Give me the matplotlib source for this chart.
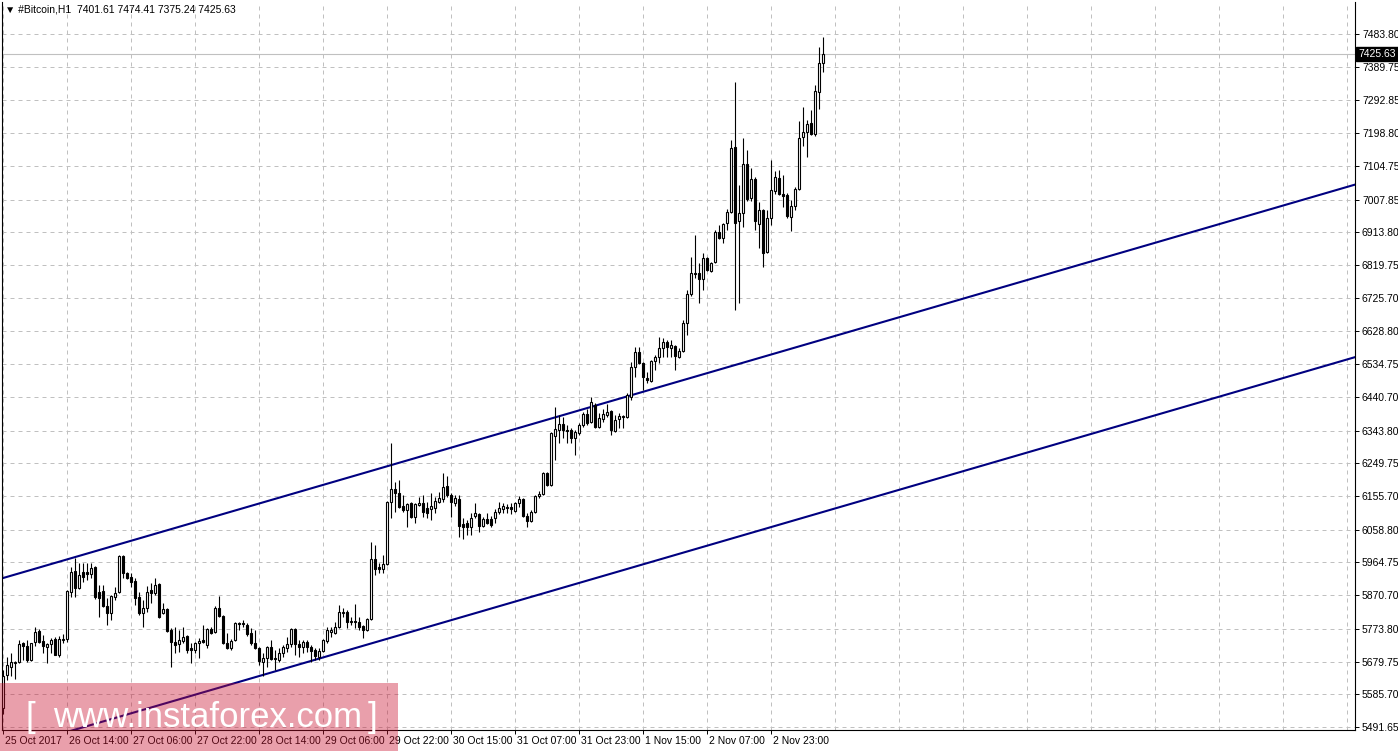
import matplotlib
matplotlib.use("Agg")
import matplotlib.pyplot as plt
import matplotlib.transforms as mtransforms
from matplotlib.patches import Rectangle

# hourly Bitcoin candles, first bar = 25 Oct 2017 22:00
opens = [
    5546, 5641, 5664, 5675, 5678, 5733, 5724, 5684, 5736, 5767,
    5739, 5721, 5730, 5744, 5698, 5741, 5744, 5880, 5940, 5891,
    5937, 5937, 5931, 5951, 5880, 5882, 5839, 5819, 5865, 5880,
    5983, 5934, 5923, 5911, 5865, 5819, 5833, 5885, 5877, 5902,
    5819, 5831, 5770, 5736, 5730, 5739, 5753, 5718, 5713, 5733,
    5741, 5727, 5773, 5764, 5833, 5810, 5733, 5718, 5741, 5790,
    5790, 5785, 5762, 5733, 5718, 5678, 5690, 5721, 5687, 5684,
    5704, 5718, 5730, 5773, 5730, 5721, 5736, 5721, 5713, 5693,
    5710, 5739, 5764, 5762, 5779, 5819, 5822, 5793, 5796, 5793,
    5782, 5770, 5802, 5974, 5951, 5946, 5960, 6138, 6176, 6164,
    6127, 6115, 6135, 6095, 6130, 6135, 6121, 6118, 6121, 6138,
    6147, 6184, 6158, 6135, 6147, 6075, 6078, 6066, 6098, 6104,
    6069, 6089, 6089, 6092, 6110, 6118, 6124, 6124, 6112, 6135,
    6147, 6098, 6084, 6110, 6156, 6161, 6222, 6187, 6328, 6345,
    6362, 6345, 6345, 6322, 6337, 6360, 6391, 6368, 6417, 6354,
    6377, 6388, 6400, 6342, 6377, 6385, 6383, 6440, 6526, 6569,
    6538, 6495, 6486, 6544, 6555, 6581, 6598, 6581, 6587, 6555,
    6572, 6653, 6736, 6797, 6797, 6779, 6840, 6802, 6828, 6914,
    6897, 6940, 6972, 7159, 6946, 6969, 7110, 7012, 7067, 6938,
    6978, 6857, 6955, 7032, 7070, 7024, 7021, 6958, 6989, 7038,
    7188, 7202, 7228, 7196, 7317, 7401.61,
]
highs = [
    5655, 5693, 5704, 5681, 5741, 5736, 5741, 5733, 5779, 5773,
    5756, 5733, 5747, 5750, 5753, 5759, 5885, 5951, 5977, 5963,
    5963, 5963, 5963, 5955, 5900, 5900, 5862, 5871, 5894, 5986,
    5986, 5937, 5934, 5920, 5880, 5856, 5897, 5905, 5920, 5905,
    5848, 5833, 5776, 5779, 5770, 5779, 5756, 5733, 5736, 5747,
    5785, 5776, 5779, 5839, 5868, 5813, 5762, 5744, 5793, 5793,
    5799, 5790, 5776, 5770, 5721, 5704, 5724, 5741, 5713, 5718,
    5727, 5750, 5776, 5776, 5741, 5741, 5741, 5727, 5718, 5718,
    5744, 5779, 5779, 5793, 5842, 5833, 5828, 5808, 5845, 5808,
    5785, 5805, 6023, 6015, 5963, 5986, 6141, 6308, 6196, 6201,
    6158, 6135, 6138, 6135, 6153, 6158, 6138, 6164, 6153, 6167,
    6222, 6213, 6164, 6158, 6158, 6092, 6086, 6107, 6135, 6107,
    6095, 6107, 6098, 6118, 6138, 6135, 6132, 6135, 6138, 6156,
    6150, 6107, 6115, 6158, 6170, 6224, 6224, 6340, 6411, 6388,
    6383, 6360, 6351, 6345, 6365, 6397, 6406, 6440, 6423, 6394,
    6406, 6420, 6403, 6388, 6394, 6388, 6452, 6541, 6584, 6584,
    6541, 6512, 6546, 6561, 6613, 6610, 6604, 6604, 6590, 6581,
    6661, 6748, 6843, 6906, 6825, 6854, 6843, 6828, 6920, 6935,
    6940, 6981, 7179, 7346, 7050, 7185, 7150, 7098, 7073, 7001,
    6981, 6978, 7121, 7090, 7093, 7078, 7027, 7006, 7044, 7234,
    7274, 7236, 7265, 7337, 7446, 7474.41,
]
lows = [
    5529, 5626, 5638, 5629, 5675, 5684, 5678, 5681, 5724, 5733,
    5704, 5675, 5704, 5698, 5693, 5733, 5736, 5865, 5865, 5888,
    5908, 5914, 5920, 5860, 5808, 5836, 5785, 5799, 5856, 5877,
    5920, 5918, 5894, 5842, 5813, 5779, 5822, 5848, 5871, 5806,
    5817, 5765, 5664, 5704, 5707, 5733, 5704, 5675, 5704, 5690,
    5733, 5718, 5759, 5762, 5808, 5730, 5716, 5713, 5739, 5770,
    5779, 5753, 5727, 5716, 5670, 5638, 5664, 5684, 5655, 5678,
    5693, 5707, 5721, 5698, 5693, 5704, 5707, 5678, 5684, 5684,
    5707, 5733, 5750, 5759, 5776, 5808, 5776, 5785, 5776, 5770,
    5747, 5767, 5799, 5928, 5934, 5934, 5957, 6092, 6110, 6121,
    6110, 6066, 6092, 6078, 6127, 6095, 6092, 6086, 6107, 6135,
    6138, 6153, 6095, 6127, 6038, 6032, 6043, 6043, 6092, 6052,
    6066, 6076, 6066, 6078, 6104, 6107, 6107, 6104, 6110, 6124,
    6095, 6066, 6081, 6107, 6150, 6158, 6184, 6184, 6259, 6308,
    6322, 6308, 6308, 6273, 6331, 6354, 6360, 6365, 6351, 6351,
    6368, 6383, 6331, 6340, 6351, 6351, 6380, 6431, 6498, 6535,
    6460, 6480, 6483, 6518, 6538, 6555, 6555, 6555, 6518, 6552,
    6569, 6618, 6730, 6782, 6710, 6748, 6802, 6800, 6825, 6895,
    6883, 6920, 6969, 6690, 6710, 6929, 7004, 7004, 6920, 6868,
    6814, 6854, 6935, 7024, 7021, 6986, 6955, 6917, 6978, 7035,
    7162, 7130, 7193, 7190, 7268, 7375.24,
]
closes = [
    5638, 5670, 5678, 5678, 5730, 5724, 5684, 5733, 5764, 5736,
    5724, 5730, 5741, 5698, 5744, 5744, 5882, 5937, 5891, 5928,
    5923, 5931, 5948, 5864, 5862, 5839, 5819, 5868, 5877, 5983,
    5934, 5920, 5908, 5862, 5819, 5833, 5880, 5877, 5900, 5808,
    5831, 5767, 5736, 5727, 5741, 5750, 5713, 5713, 5733, 5739,
    5736, 5773, 5762, 5833, 5810, 5733, 5718, 5739, 5790, 5787,
    5787, 5759, 5733, 5718, 5681, 5690, 5721, 5687, 5690, 5704,
    5721, 5730, 5773, 5730, 5721, 5736, 5721, 5710, 5695, 5710,
    5741, 5770, 5770, 5779, 5822, 5822, 5793, 5796, 5793, 5779,
    5770, 5802, 5974, 5946, 5946, 5960, 6138, 6176, 6164, 6124,
    6115, 6132, 6095, 6132, 6135, 6110, 6107, 6127, 6141, 6150,
    6181, 6158, 6138, 6150, 6069, 6066, 6066, 6092, 6107, 6069,
    6089, 6078, 6072, 6110, 6121, 6127, 6121, 6118, 6135, 6147,
    6098, 6084, 6110, 6156, 6161, 6222, 6187, 6337, 6348, 6362,
    6345, 6342, 6322, 6340, 6360, 6391, 6365, 6426, 6354, 6380,
    6391, 6397, 6345, 6374, 6385, 6383, 6446, 6526, 6569, 6538,
    6498, 6489, 6544, 6555, 6581, 6598, 6584, 6590, 6558, 6572,
    6653, 6736, 6797, 6794, 6779, 6840, 6805, 6825, 6914, 6897,
    6937, 6972, 7156, 6940, 6969, 7110, 7009, 7067, 6946, 6978,
    6854, 6955, 7035, 7073, 7024, 7018, 6960, 6989, 7038, 7185,
    7202, 7225, 7196, 7320, 7400, 7425.63,
]

# time axis labels (every 16 bars)
time_tick_bars = [0, 16, 32, 48, 64, 80, 96, 112, 128, 144, 160, 176, 192]
time_tick_labels = ["25 Oct 2017", "26 Oct 14:00", "27 Oct 06:00", "27 Oct 22:00",
                    "28 Oct 14:00", "29 Oct 06:00", "29 Oct 22:00", "30 Oct 15:00",
                    "31 Oct 07:00", "31 Oct 23:00", "1 Nov 15:00", "2 Nov 07:00",
                    "2 Nov 23:00"]

price_ticks = [7483.80, 7389.75, 7292.85, 7198.80, 7104.75, 7007.85, 6913.80,
               6819.75, 6725.70, 6628.80, 6534.75, 6440.70, 6343.80, 6249.75,
               6155.70, 6058.80, 5964.75, 5870.70, 5773.80, 5679.75, 5585.70,
               5491.65]

# channel trend lines (bar index, price)
upper_line_bars = [0, 338]
upper_line_prices = [5920, 7051]
lower_line_bars = [0, 338]
lower_line_prices = [5424, 6555]

plt.rcParams["font.family"] = ["Liberation Sans", "DejaVu Sans"]

W, H = 1398, 751
fig = plt.figure(figsize=(W / 100, H / 100), dpi=100)
fig.patch.set_facecolor("white")
ax = fig.add_axes([2 / W, (H - 730) / H, 1353 / W, 728 / H])
ax.set_facecolor("white")

ax.set_xlim(-0.3, 337.95)
ax.set_ylim(5483.0, 7575.8)

grid_kw = dict(color="#c0c0c0", linewidth=0.72, linestyle=(0, (4, 4)), zorder=0)
for p in price_ticks:
    ax.axhline(p, **grid_kw)
for b in range(0, 338, 16):
    ax.axvline(b, **grid_kw)

# current price line
ax.axhline(closes[-1], color="#c0c0c0", linewidth=0.8, zorder=1)

# channel
ax.plot(upper_line_bars, upper_line_prices, color="#000080", linewidth=1.5, zorder=2)
ax.plot(lower_line_bars, lower_line_prices, color="#000080", linewidth=1.5, zorder=2)

# candles
xs = list(range(len(closes)))
ax.vlines(xs, lows, highs, color="black", linewidth=0.8, zorder=3)
heights = [c - o for o, c in zip(opens, closes)]
faces = ["white" if c >= o else "black" for o, c in zip(opens, closes)]
ax.bar(xs, heights, bottom=opens, width=0.5, color=faces, edgecolor="black",
       linewidth=0.8, zorder=4)

# axes look
for side in ["left", "bottom", "right"]:
    ax.spines[side].set_color("black")
    ax.spines[side].set_linewidth(0.8)
ax.spines["top"].set_visible(False)

ax.yaxis.tick_right()
ax.set_yticks(price_ticks)
ax.set_yticklabels([f"{p:.2f}" for p in price_ticks])
ax.tick_params(axis="y", direction="out", length=3, width=0.7, pad=2,
               labelsize=7.5, colors="black")

ax.set_xticks(time_tick_bars)
ax.set_xticklabels(time_tick_labels)
ax.tick_params(axis="x", direction="out", length=3, width=0.7, pad=1.5,
               labelsize=7.5, colors="black")
shift = mtransforms.ScaledTranslation(2 / 100, 0, fig.dpi_scale_trans)
for lbl in ax.get_xticklabels():
    lbl.set_horizontalalignment("left")
    lbl.set_transform(lbl.get_transform() + shift)

# price label box on the scale
trans = mtransforms.blended_transform_factory(ax.transAxes, ax.transData)
ax.text(1.0 + 3 / 1353, closes[-1], f"{closes[-1]:.2f}", transform=trans,
        ha="left", va="center", fontsize=7.5, color="white", clip_on=False,
        bbox=dict(facecolor="black", edgecolor="black", boxstyle="square,pad=0.2"),
        zorder=6)

# header
fig.text(5 / W, 1 - 10 / H, "\u25bc #Bitcoin,H1  %.2f %.2f %.2f %.2f"
         % (opens[-1], highs[-1], lows[-1], closes[-1]),
         ha="left", va="center", fontsize=7.5, color="black")

# watermark
fig.add_artist(Rectangle((0, 0), 398 / W, 68 / H, transform=fig.transFigure,
                         facecolor="#c8102e", alpha=0.4, edgecolor="none", zorder=10))
wm_y = (H - 727) / H
fig.text(25 / W, wm_y, "[", transform=fig.transFigure, fontsize=25, color="white",
         ha="left", va="baseline", zorder=11)
fig.text(53 / W, wm_y, "www.instaforex.com", fontsize=25, color="white",
         ha="left", va="baseline", zorder=11)
fig.text(368 / W, wm_y, "]", fontsize=25, color="white",
         ha="left", va="baseline", zorder=11)

fig.savefig("out.png", dpi=100, facecolor="white")
